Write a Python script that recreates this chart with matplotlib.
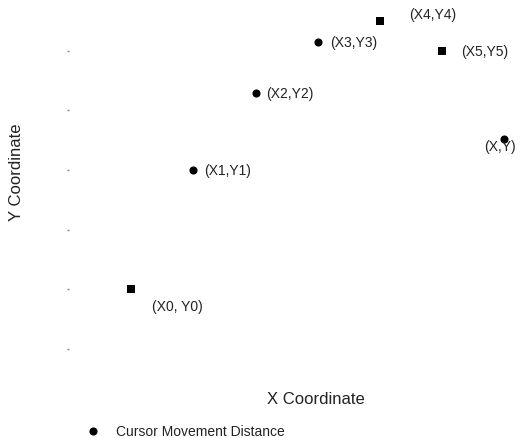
import matplotlib
matplotlib.use("Agg")
import matplotlib.pyplot as plt

# cursor path points (tick units)
x_vals = [0, 1, 2, 3, 4, 5, 6]
y_vals = [1.0, 3.0, 4.3, 5.15, 5.5, 5.0, 3.52]
point_labels = ["(X0, Y0)", "(X1,Y1)", "(X2,Y2)", "(X3,Y3)", "(X4,Y4)", "(X5,Y5)", "(X,Y)"]
y_ticks = [0, 1, 2, 3, 4, 5]

x_title = "X Coordinate"
y_title = "Y Coordinate"
legend_label = "Cursor Movement Distance"

# per-point styling (marker shape and label offset in pixels)
shapes = ["s", "o", "o", "o", "s", "s", "o"]
offsets = [(21, -17), (11, 0), (11, 0), (12, 0), (29, 7), (19, 0), (-20, -7)]

plt.rcParams["font.family"] = ["Liberation Sans", "DejaVu Sans"]

W, H = 520, 439
fig = plt.figure(figsize=(W / 100, H / 100), dpi=100)
ax = fig.add_axes([69 / W, (H - 380) / H, 452 / W, 370 / H])

text_color = "#222222"
handle = None
for x, y, shp in zip(x_vals, y_vals, shapes):
    sc = ax.scatter([x], [y], marker=shp, s=30 if shp == "s" else 34,
                    color="black", linewidths=0, clip_on=False, zorder=3)
    if shp == "o" and handle is None:
        handle = sc

for x, y, lab, off in zip(x_vals, y_vals, point_labels, offsets):
    ax.annotate(lab, (x, y), xytext=off, textcoords="offset pixels",
                ha="left", va="center", fontsize=10, color=text_color,
                annotation_clip=False)

ax.set_xlim(-1, 6.27)
ax.set_ylim(-0.5, 5.7)
ax.set_yticks(y_ticks)
ax.set_yticklabels([])
ax.set_xticks([])
ax.tick_params(axis="y", length=1.5, width=1, color="#888888")
for sp in ax.spines.values():
    sp.set_visible(False)

ax.set_xlabel(x_title, fontsize=12, color=text_color)
ax.xaxis.set_label_coords((316 - 69) / 452, (380 - 392) / 370)
ax.set_ylabel(y_title, fontsize=12, color=text_color)
ax.yaxis.set_label_coords((24 - 69) / 452, (380 - 172) / 370)

ax.legend([handle], [legend_label], loc="center left",
          bbox_to_anchor=(70 / W, 1 - 432 / H), bbox_transform=fig.transFigure,
          frameon=False, fontsize=10, handlelength=1.5, handletextpad=0.9,
          labelcolor=text_color, scatterpoints=1)

fig.savefig("out.png", dpi=100)
